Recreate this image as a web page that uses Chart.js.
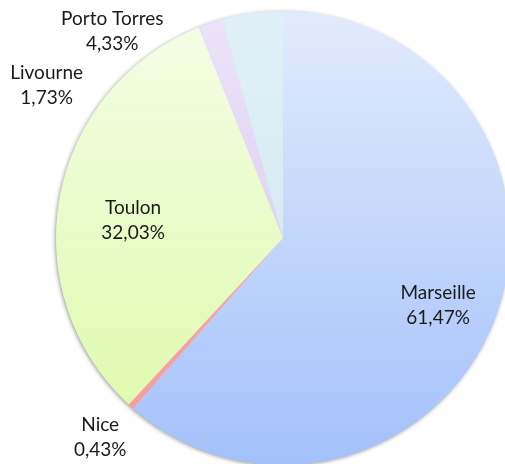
<!DOCTYPE html>
<html><head><meta charset="utf-8">
<script src="https://cdn.jsdelivr.net/npm/chart.js@4/dist/chart.umd.min.js"></script>
<style>html,body{margin:0;padding:0;overflow:hidden;background:#fff;width:505px;height:464px}#wrap{position:absolute;left:0;top:0;width:566px;height:476px}</style>
</head><body><div id="wrap"><canvas id="c" width="566" height="476"></canvas></div>
<script>
const categories = ["Marseille", "Nice", "Toulon", "Livourne", "Porto Torres"];
const shares = [61.47, 0.43, 32.03, 1.73, 4.33];
const valueLabels = ["61,47%", "0,43%", "32,03%", "1,73%", "4,33%"];

// label placement: angle offset from slice middle (deg) and radius factor
const labelPlace = [
  {da: 2.8, rf: 0.745},
  {da: 0.5, rf: 1.19},
  {da: -3.7, rf: 0.665},
  {da: -38.4, rf: 1.24},
  {da: -31.8, rf: 1.18}
];

function grad(ctx, area, top, bottom) {
  const g = ctx.createLinearGradient(0, 11, 0, 465);
  g.addColorStop(0, top); g.addColorStop(1, bottom); return g;
}

const shadowPlugin = {
  id: 'shadow',
  beforeDatasetsDraw(chart) {
    const a = chart.getDatasetMeta(0).data[0];
    if (!a) return;
    const ctx = chart.ctx;
    ctx.save();
    ctx.shadowColor = 'rgba(0,0,0,0.45)';
    ctx.shadowBlur = 4;
    ctx.shadowOffsetX = -1;
    ctx.shadowOffsetY = 1;
    ctx.beginPath();
    ctx.arc(a.x, a.y, a.outerRadius - 0.5, 0, Math.PI * 2);
    ctx.fillStyle = '#cfdcf5';
    ctx.fill();
    ctx.restore();
  }
};

const labelPlugin = {
  id: 'lbl',
  afterDatasetsDraw(chart) {
    const ctx = chart.ctx;
    const arcs = chart.getDatasetMeta(0).data;
    ctx.save();
    ctx.font = '19px Lato';
    ctx.fillStyle = '#1a1a1a';
    ctx.textAlign = 'center';
    ctx.textBaseline = 'middle';
    arcs.forEach((a, i) => {
      const mid = (a.startAngle + a.endAngle) / 2 + labelPlace[i].da * Math.PI / 180;
      const r = a.outerRadius * labelPlace[i].rf;
      const x = a.x + Math.cos(mid) * r;
      const y = a.y + Math.sin(mid) * r;
      ctx.fillText(categories[i], x, y - 12.5);
      ctx.fillText(valueLabels[i], x, y + 12.5);
    });
    ctx.restore();
  }
};

new Chart(document.getElementById('c'), {
  type: 'pie',
  data: {
    labels: categories,
    datasets: [{
      data: shares,
      backgroundColor: (c) => {
        const ctx = c.chart.ctx, area = c.chart.chartArea;
        if (!area) return '#ccc';
        const cols = [
          ['#e2ebfc', '#a3c1fa'],
          ['#fbb4b4', '#f59a9a'],
          ['#f5fde6', '#dcfaa8'],
          ['#ece3f8', '#d4c3ef'],
          ['#e0f0f6', '#cfe6ef']
        ][c.dataIndex];
        return grad(ctx, area, cols[0], cols[1]);
      },
      borderWidth: 0
    }]
  },
  options: {
    responsive: false,
    animation: false,
    rotation: 0,
    layout: {padding: 11},
    plugins: {legend: {display: false}, tooltip: {enabled: false}}
  },
  plugins: [shadowPlugin, labelPlugin]
});
</script></body></html>
